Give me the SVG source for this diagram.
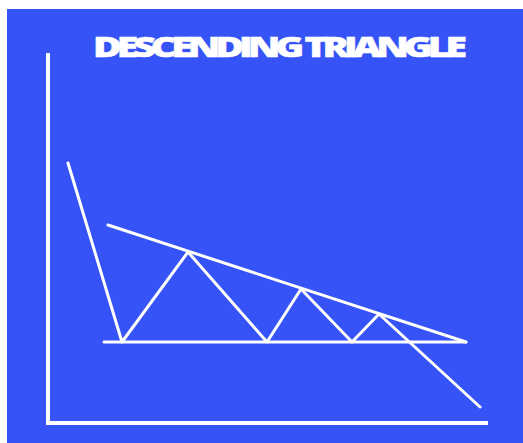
<svg xmlns="http://www.w3.org/2000/svg" width="523" height="443" viewBox="0 0 523 443">
<style>
.ln{stroke:#ffffff;stroke-width:3;fill:none;stroke-linecap:round;stroke-linejoin:round}
.ax{stroke:#ffffff;stroke-width:4;fill:none}
.t{font-family:"Open Sans","Liberation Sans",sans-serif;font-weight:800;font-size:27.5px;fill:#ffffff;stroke:#ffffff;stroke-width:0.5}
</style>
<rect x="0" y="0" width="523" height="443" fill="#ffffff"/>
<rect x="7" y="9" width="516" height="434" fill="#3553F7"/>
<text class="t" x="93" y="56.5" textLength="369" lengthAdjust="spacingAndGlyphs" letter-spacing="-3.5">DESCENDING TRIANGLE</text>
<g id="axes">
<polyline class="ax" points="48,53 48,423 488,423"/>
</g>
<g id="connectors">
<line class="ln" x1="104" y1="342" x2="466" y2="342"/>
<line class="ln" x1="108" y1="225" x2="466" y2="342"/>
<polyline class="ln" points="68,163 122,342 188,252 267,342 301,289 352,342 379,314 480,407"/>
</g>
</svg>
